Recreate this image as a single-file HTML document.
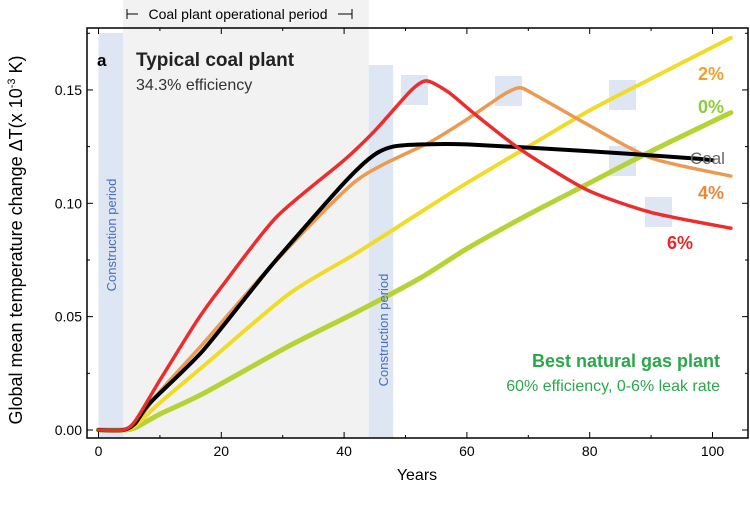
<!DOCTYPE html>
<html><head><meta charset="utf-8"><style>
body{margin:0;background:#fff;}
svg text{font-family:"Liberation Sans",sans-serif;}
</style></head><body>
<svg width="750" height="501" viewBox="0 0 750 501">
<g id="bg"></g>
<g id="marks"></g>
<g id="axes"></g>
<g id="labels"></g>
</svg>
<script>
const coalX = [0,4,6,8.4,17,28,40,44.7,48,53,60,80,96,100];
const coalY = [0,0,0.003,0.012,0.035,0.072,0.109,0.121,0.125,0.126,0.126,0.123,0.120,0.119];
const redX = [0,4,6,10,16,20,29,40,45,51,53.5,57,61,68.6,79.5,90,103];
const redY = [0,0,0.004,0.022,0.048,0.063,0.094,0.119,0.132,0.150,0.154,0.149,0.140,0.124,0.106,0.096,0.089];
const orangeX = [0,4,6,10,17,28,42,54,60,66,68.6,71,79.5,90,103];
const orangeY = [0,0,0.003,0.017,0.038,0.072,0.110,0.127,0.137,0.148,0.151,0.148,0.135,0.120,0.112];
const yellowX = [0,4,6,10,17,31,42,52.4,60,70,80,90,103];
const yellowY = [0,0,0.002,0.012,0.028,0.060,0.078,0.096,0.109,0.125,0.141,0.155,0.173];
const greenX = [0,4,6,10,17,31,42,52.4,60,70,80,90,103];
const greenY = [0,0,0.001,0.007,0.016,0.037,0.052,0.067,0.080,0.095,0.109,0.123,0.140];
const xTicks = [0,20,40,60,80,100];
const yTicks = [0.00,0.05,0.10,0.15];
const yTickLabels = ["0.00","0.05","0.10","0.15"];

const X = v => 98.5 + v*6.14;
const Y = v => 430 - v*2267;
const NS="http://www.w3.org/2000/svg";
function mk(tag, attrs, parent, txt){const e=document.createElementNS(NS,tag);for(const k in attrs)e.setAttribute(k,attrs[k]);if(txt!==undefined)e.textContent=txt;document.getElementById(parent).appendChild(e);return e;}

let r=mk('rect',{x:X(4),y:0,width:X(44)-X(4),height:438,fill:'#f2f2f2'},'bg');


r=mk('rect',{x:X(0),y:33,width:X(4)-X(0),height:405,fill:'#dfe6f3'},'bg');


r=mk('rect',{x:X(44),y:65,width:X(48)-X(44),height:373,fill:'#dfe6f3'},'bg');


[[401,75],[495,76],[609,80],[609,146],[645,197]].forEach(p=>{
  const b=mk('rect',{x:p[0],y:p[1],width:27,height:30,fill:'#dfe6f3'},'bg');
  
  
});

function line(xs,ys,color,w,name){
  const P=xs.map((x,i)=>[X(x),Y(ys[i])]);
  let d='M'+P[0][0].toFixed(1)+','+P[0][1].toFixed(1);
  for(let i=0;i<P.length-1;i++){
    const p0=P[Math.max(0,i-1)],p1=P[i],p2=P[i+1],p3=P[Math.min(P.length-1,i+2)];
    const t=0.12;
    const c1=[p1[0]+(p2[0]-p0[0])*t,p1[1]+(p2[1]-p0[1])*t];
    const c2=[p2[0]-(p3[0]-p1[0])*t,p2[1]-(p3[1]-p1[1])*t];
    d+=' C'+c1.map(v=>v.toFixed(1)).join(',')+' '+c2.map(v=>v.toFixed(1)).join(',')+' '+p2.map(v=>v.toFixed(1)).join(',');
  }
  const p=mk('path',{d:d,fill:'none',stroke:color,'stroke-width':w,'stroke-linejoin':'round','stroke-linecap':'round'},'marks');
  
  
}
line(greenX,greenY,'#b5d334',5,'gas-0pct-line');
line(yellowX,yellowY,'#f0dc28',4,'gas-2pct-line');
line(orangeX,orangeY,'#ec9a50',3.5,'gas-4pct-line');
line(coalX,coalY,'#000000',4,'coal-line');
line(redX,redY,'#ec2d2d',3.5,'gas-6pct-line');

r=mk('rect',{x:87,y:28,width:661,height:410,fill:'none',stroke:'#000','stroke-width':1.5},'axes');


xTicks.forEach(t=>{
  mk('line',{x1:X(t),x2:X(t),y1:438,y2:432,stroke:'#000'},'axes');
  mk('line',{x1:X(t),x2:X(t),y1:28,y2:34,stroke:'#000'},'axes');
  const tx=mk('text',{x:X(t),y:456,'font-size':14,'text-anchor':'middle'},'axes',String(t));
  
  
});
for(let t=10;t<=100;t+=20){mk('line',{x1:X(t),x2:X(t),y1:438,y2:435,stroke:'#000'},'axes');mk('line',{x1:X(t),x2:X(t),y1:28,y2:31,stroke:'#000'},'axes');}
yTicks.forEach((t,i)=>{
  mk('line',{x1:87,x2:93,y1:Y(t),y2:Y(t),stroke:'#000'},'axes');
  mk('line',{x1:748,x2:742,y1:Y(t),y2:Y(t),stroke:'#000'},'axes');
  const tx=mk('text',{x:82,y:Y(t)+5,'font-size':14,'text-anchor':'end'},'axes',yTickLabels[i]);
  
  
});
for(let t=0.025;t<0.18;t+=0.05){mk('line',{x1:87,x2:90,y1:Y(t),y2:Y(t),stroke:'#000'},'axes');mk('line',{x1:748,x2:745,y1:Y(t),y2:Y(t),stroke:'#000'},'axes');}
</script>
<svg style="position:absolute;left:0;top:0" width="750" height="501">
<text x="417" y="480" font-size="16" text-anchor="middle" font-family="Liberation Sans">Years</text>
<text transform="translate(22,240) rotate(-90)" font-size="18" text-anchor="middle" font-family="Liberation Sans">Global mean temperature change ΔT(x 10<tspan font-size="11" dy="-7">-3</tspan><tspan dy="7"> K)</tspan></text>
<g>
<line x1="127" y1="14" x2="352" y2="14" stroke="#000"/>
<line x1="127" y1="9" x2="127" y2="19" stroke="#000"/><line x1="352" y1="9" x2="352" y2="19" stroke="#000"/>
<rect x="138" y="4" width="200" height="18" fill="#f2f2f2"/>
<text x="238" y="19" font-size="14" text-anchor="middle" font-family="Liberation Sans">Coal plant operational period</text>
</g>
<text x="97" y="66" font-size="17" font-weight="bold" font-family="Liberation Sans">a</text>
<text x="136" y="66" font-size="19" font-weight="bold" fill="#222" font-family="Liberation Sans">Typical coal plant</text>
<text x="136" y="90" font-size="16" fill="#333" font-family="Liberation Sans">34.3% efficiency</text>
<text transform="translate(116,235) rotate(-90)" font-size="13" fill="#4a6cc0" text-anchor="middle" font-family="Liberation Sans">Construction period</text>
<text transform="translate(388,330) rotate(-90)" font-size="13" fill="#4a6cc0" text-anchor="middle" font-family="Liberation Sans">Construction period</text>
<text x="720" y="367" font-size="18" font-weight="bold" fill="#2aa84a" text-anchor="end" font-family="Liberation Sans">Best natural gas plant</text>
<text x="720" y="391" font-size="16" fill="#2aa84a" text-anchor="end" font-family="Liberation Sans">60% efficiency, 0-6% leak rate</text>
<text x="698" y="80" font-size="18" font-weight="bold" fill="#f0a030" font-family="Liberation Sans">2%</text>
<text x="698" y="113" font-size="18" font-weight="bold" fill="#8ccc3a" font-family="Liberation Sans">0%</text>
<text x="690" y="164" font-size="17" fill="#666" font-family="Liberation Sans">Coal</text>
<text x="698" y="199" font-size="18" font-weight="bold" fill="#e8883c" font-family="Liberation Sans">4%</text>
<text x="667" y="249" font-size="18" font-weight="bold" fill="#e82828" font-family="Liberation Sans">6%</text>
</svg>
</body></html>
